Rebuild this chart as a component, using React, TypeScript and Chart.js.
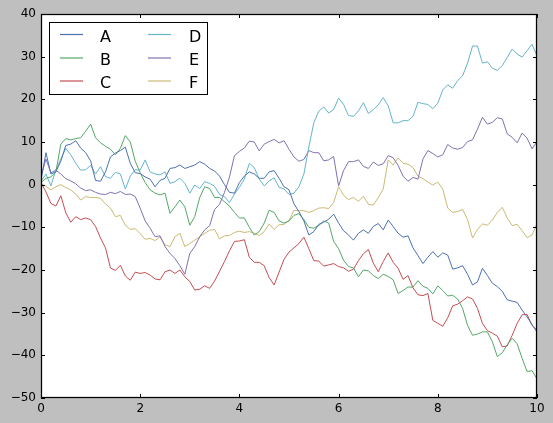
import { useEffect, useRef } from "react";
import { Chart, registerables } from "chart.js";

Chart.register(...registerables);

const tValues = [
  0, 0.1, 0.2, 0.3, 0.4, 0.5, 0.6, 0.7, 0.8, 0.9,
  1, 1.1, 1.2, 1.3, 1.4, 1.5, 1.6, 1.7, 1.8, 1.9,
  2, 2.1, 2.2, 2.3, 2.4, 2.5, 2.6, 2.7, 2.8, 2.9,
  3, 3.1, 3.2, 3.3, 3.4, 3.5, 3.6, 3.7, 3.8, 3.9,
  4, 4.1, 4.2, 4.3, 4.4, 4.5, 4.6, 4.7, 4.8, 4.9,
  5, 5.1, 5.2, 5.3, 5.4, 5.5, 5.6, 5.7, 5.8, 5.9,
  6, 6.1, 6.2, 6.3, 6.4, 6.5, 6.6, 6.7, 6.8, 6.9,
  7, 7.1, 7.2, 7.3, 7.4, 7.5, 7.6, 7.7, 7.8, 7.9,
  8, 8.1, 8.2, 8.3, 8.4, 8.5, 8.6, 8.7, 8.8, 8.9,
  9, 9.1, 9.2, 9.3, 9.4, 9.5, 9.6, 9.7, 9.8, 9.9,
  10,
];

const seriesA = [
  1.0, 7.5, 2.5, 3.0, 5.5, 9.2, 9.5, 10.3, 8.6, 7.5,
  5.6, 1.0, 0.8, 3.0, 6.5, 7.4, 8.0, 8.8, 5.0, 2.8,
  2.6, 1.8, 1.3, -0.5, 1.0, 1.5, 3.8, 4.0, 4.6, 3.8,
  4.2, 4.6, 5.4, 4.8, 3.8, 3.2, 2.0, 0.0, -1.8, -2.0,
  0.5, 2.0, 3.0, 2.5, 1.5, 1.5, 3.0, 3.3, 1.5, -0.5,
  -1.2, -4.5, -6.3, -8.5, -11.8, -11.0, -9.3, -8.8, -8.1, -6.9,
  -9.0, -10.8, -11.8, -13.0, -11.4, -10.6, -11.4, -9.8, -9.1, -10.6,
  -8.3, -9.8, -11.4, -12.3, -12.0, -14.8, -16.6, -18.5, -17.0, -15.7,
  -17.0, -16.0, -16.5, -19.8, -19.5, -19.0, -21.0, -23.5, -22.8, -19.6,
  -21.3, -23.1, -23.9, -25.0, -27.0, -27.3, -27.6, -29.4, -31.0, -32.8,
  -34.5,
];

const seriesB = [
  0.5, 1.5, 1.8, 3.0, 9.5, 10.8, 10.5, 10.8, 11.0, 12.5,
  14.2, 11.0, 9.8, 9.0, 8.3, 7.0, 8.5, 11.5, 10.0, 5.5,
  2.8, 0.5, -1.2, -2.0, -2.4, -2.0, -6.7, -5.2, -3.6, -5.2,
  -9.5, -7.5, -3.0, -0.5, -0.9, -3.0, -3.0, -4.0, -5.0, -6.5,
  -7.8, -7.8, -10.0, -11.8, -11.0, -9.0, -6.0, -6.5, -8.5, -9.0,
  -8.5, -7.2, -6.8, -8.2, -10.0, -10.2, -9.6, -8.5, -9.0, -13.3,
  -15.0, -17.7, -19.2, -19.5, -21.6, -20.0, -20.2, -21.3, -22.0, -21.0,
  -21.5, -22.3, -25.5, -24.8, -24.0, -24.0, -22.5, -23.8, -24.3, -25.6,
  -23.7, -24.8, -26.1, -25.9, -26.8, -29.0, -33.0, -35.3, -35.0, -34.5,
  -34.5, -36.8, -40.3, -39.4, -37.5, -36.0, -37.3, -40.7, -43.8, -43.6,
  -45.5,
];

const seriesC = [
  0.5, -1.7, -4.4, -5.0, -2.6, -6.6, -8.8, -7.5, -8.2, -7.8,
  -8.2, -9.8, -12.5, -14.8, -19.5, -20.1, -18.9, -21.4, -22.4, -20.5,
  -20.8, -20.6, -21.2, -22.1, -22.3, -20.4, -20.0, -20.8, -20.0, -21.6,
  -22.7, -24.7, -24.5, -23.7, -24.3, -22.6, -20.3, -18.0, -15.5, -13.3,
  -13.2, -12.9, -17.0, -18.2, -18.2, -19.0, -21.8, -23.5, -20.5, -17.5,
  -15.8, -14.8, -13.8, -12.3, -15.0, -17.8, -17.9, -19.1, -18.8, -18.5,
  -19.2, -19.5, -20.3, -19.8, -17.8, -16.2, -15.2, -18.4, -20.4, -18.0,
  -16.0, -18.2, -19.6, -22.2, -21.3, -24.2, -25.8, -26.0, -25.5, -31.8,
  -32.5, -33.2, -31.2, -28.4, -28.0, -27.2, -26.3, -26.8, -29.0, -32.5,
  -34.2, -34.8, -35.5, -38.0, -37.8, -35.3, -32.5, -30.5, -30.4, -33.0,
  -34.1,
];

const seriesD = [
  0.8, 2.5, -0.3, 3.5, 6.0, 8.5, 7.0, 5.0, 3.4, 3.5,
  4.5, 2.5, 4.2, 1.9, 1.5, 2.9, 2.5, -1.0, 2.0, 3.5,
  3.4, 5.8, 3.0, 2.5, 2.3, 3.0, 0.3, 0.7, 1.5, 0.3,
  -2.0, -0.1, -0.9, 0.7, 0.3, -0.4, -2.3, -2.8, -4.2, -2.2,
  -0.6, 1.3, 5.0, 4.0, 1.3, -0.3, 0.9, 1.6, -0.6, -1.0,
  -2.3, -2.0, -0.5, 2.5, 8.8, 14.5, 17.2, 18.2, 16.8, 17.6,
  20.3, 18.8, 16.2, 16.0, 17.3, 19.2, 16.7, 17.6, 18.7, 20.4,
  18.5, 14.5, 14.5, 15.0, 15.0, 16.0, 19.3, 19.0, 18.8, 17.8,
  19.1, 22.2, 23.4, 22.6, 24.4, 25.5, 28.5, 32.5, 32.5, 28.5,
  28.8, 27.3, 26.8, 27.9, 29.8, 31.8, 30.6, 29.9, 31.4, 32.9,
  30.2,
];

const seriesE = [
  2.0, 6.0, 2.8, 3.4, 2.5, 1.4, 0.9, 0.2, -0.8, -1.4,
  -1.2, -1.8, -2.2, -2.3, -1.8, -2.1, -1.6, -2.3, -2.2, -2.8,
  -5.5, -8.5, -10.2, -12.2, -12.0, -14.5, -16.1, -17.3, -19.0, -21.0,
  -16.1, -14.5, -12.2, -10.6, -9.6, -5.8, -4.6, -1.8, 1.8, 6.8,
  7.8, 8.6, 10.2, 10.0, 7.9, 9.5, 10.1, 10.6, 9.8, 10.3,
  8.3, 6.5, 5.5, 5.9, 8.0, 7.5, 7.5, 5.6, 5.8, 6.6,
  -0.3, 3.3, 5.4, 5.4, 5.8, 4.3, 3.8, 5.3, 4.5, 4.9,
  6.8, 6.3, 4.5, 2.0, 0.8, 1.7, 1.3, 6.0, 8.0, 7.3,
  6.5, 7.0, 9.4, 8.6, 8.3, 8.7, 10.1, 10.5, 13.0, 15.8,
  14.2, 14.6, 15.7, 15.4, 11.9, 11.1, 9.8, 12.1, 10.9, 8.4,
  10.1,
];

const seriesF = [
  0.3, -0.4, -1.2, -0.5, 0.0, -0.7, -1.2, -2.2, -3.6, -2.8,
  -3.0, -3.0, -3.2, -4.5, -5.5, -7.5, -7.2, -9.5, -10.5, -10.3,
  -11.5, -12.8, -12.6, -13.1, -12.2, -14.1, -14.5, -12.2, -11.4, -14.5,
  -13.8, -13.0, -12.2, -11.4, -10.7, -10.5, -12.7, -12.0, -11.9, -11.2,
  -10.9, -11.2, -11.0, -11.4, -11.9, -11.0, -9.2, -10.5, -9.4, -9.3,
  -8.4, -6.0, -6.1, -6.1, -6.5, -6.1, -5.5, -5.4, -5.6, -4.2,
  -0.5, -2.5, -3.5, -3.0, -3.9, -2.7, -4.6, -4.8, -3.0, -1.0,
  5.8, 4.6, 6.3, 5.0, 4.8, 4.0, 2.0, 1.4, 0.6, -0.1,
  0.6, -1.0, -5.5, -6.5, -6.3, -5.8, -8.2, -12.5, -10.5, -9.2,
  -9.5, -8.3, -6.5, -5.3, -7.8, -9.6, -9.3, -10.8, -12.4, -11.8,
  -9.1,
];

const seriesLabels = ["A", "B", "C", "D", "E", "F"];
const seriesColors = ["#4C72B0", "#55A868", "#C44E52", "#64B5CD", "#8172B2", "#CCB974"];
const xTicks = [0, 2, 4, 6, 8, 10];
const yTicks = [-50, -40, -30, -20, -10, 0, 10, 20, 30, 40];

const FONT = "'DejaVu Sans', 'Liberation Sans', sans-serif";

const framePlugin = {
  id: "frameTicksLegend",
  beforeDatasetsDraw(chart: any) {
    const { ctx, chartArea } = chart;
    ctx.save();
    ctx.fillStyle = "#ffffff";
    ctx.fillRect(chartArea.left, chartArea.top, chartArea.right - chartArea.left, chartArea.bottom - chartArea.top);
    ctx.restore();
  },
  afterDatasetsDraw(chart: any) {
    const { ctx, chartArea, scales } = chart;
    const { left, right, top, bottom } = chartArea;
    const xs = scales.x;
    const ys = scales.y;
    ctx.save();
    ctx.strokeStyle = "#000000";
    ctx.lineWidth = 1;
    ctx.beginPath();
    for (const v of xTicks) {
      const px = Math.round(xs.getPixelForValue(v)) + 0.5;
      ctx.moveTo(px, bottom);
      ctx.lineTo(px, bottom - 4);
      ctx.moveTo(px, top);
      ctx.lineTo(px, top + 4);
    }
    for (const v of yTicks) {
      const py = Math.round(ys.getPixelForValue(v)) + 0.5;
      ctx.moveTo(left, py);
      ctx.lineTo(left + 4, py);
      ctx.moveTo(right, py);
      ctx.lineTo(right - 4, py);
    }
    ctx.stroke();
    ctx.lineWidth = 1.25;
    ctx.strokeRect(Math.round(left) + 0.5, Math.round(top) + 0.5, Math.round(right - left) - 1, Math.round(bottom - top) - 1);

    // legend (two columns, upper left)
    const boxX = 49.5;
    const boxY = 22.5;
    const boxW = 158;
    const boxH = 72;
    ctx.fillStyle = "#ffffff";
    ctx.fillRect(boxX, boxY, boxW, boxH);
    ctx.lineWidth = 1;
    ctx.strokeStyle = "#000000";
    ctx.strokeRect(boxX, boxY, boxW, boxH);
    const rowY = [34, 57.5, 80.5];
    const cols = [
      { x0: 60, x1: 83, tx: 100 },
      { x0: 148, x1: 171, tx: 189 },
    ];
    ctx.font = `16px ${FONT}`;
    ctx.textAlign = "left";
    ctx.textBaseline = "alphabetic";
    chart.data.datasets.forEach((ds: any, i: number) => {
      const col = cols[Math.floor(i / 3)];
      const y = rowY[i % 3];
      ctx.strokeStyle = ds.borderColor;
      ctx.lineWidth = 1.2;
      ctx.beginPath();
      ctx.moveTo(col.x0, y + 0.5);
      ctx.lineTo(col.x1, y + 0.5);
      ctx.stroke();
      ctx.fillStyle = "#000000";
      ctx.fillText(ds.label, col.tx, y + 7.5);
    });
    ctx.restore();
  },
};

export default function App() {
  const canvasRef = useRef<HTMLCanvasElement | null>(null);

  useEffect(() => {
    const canvas = canvasRef.current;
    if (!canvas) return;
    const allSeries = [seriesA, seriesB, seriesC, seriesD, seriesE, seriesF];
    const chart = new Chart(canvas, {
      type: "line",
      data: {
        datasets: allSeries.map((vals, i) => ({
          label: seriesLabels[i],
          data: vals.map((v, j) => ({ x: tValues[j], y: v })),
          borderColor: seriesColors[i],
          backgroundColor: seriesColors[i],
          borderWidth: 1,
          pointRadius: 0,
          pointHoverRadius: 0,
          tension: 0,
          fill: false,
        })),
      },
      options: {
        responsive: false,
        animation: false,
        devicePixelRatio: 1,
        layout: { padding: { left: 0, top: 14, right: 16, bottom: 0 } },
        plugins: {
          legend: { display: false },
          tooltip: { enabled: false },
        },
        events: [],
        scales: {
          x: {
            type: "linear",
            min: 0,
            max: 10,
            grid: { display: false, drawTicks: false },
            border: { display: false },
            afterBuildTicks: (scale: any) => {
              scale.ticks = xTicks.map((v) => ({ value: v }));
            },
            afterFit: (scale: any) => {
              scale.height = 25;
            },
            ticks: {
              color: "#000000",
              padding: 4,
              maxRotation: 0,
              autoSkip: false,
              font: { family: FONT, size: 12 },
              callback: (v: any) => String(v),
            },
          },
          y: {
            type: "linear",
            min: -50,
            max: 40,
            grid: { display: false, drawTicks: false },
            border: { display: false },
            afterBuildTicks: (scale: any) => {
              scale.ticks = yTicks.map((v) => ({ value: v }));
            },
            afterFit: (scale: any) => {
              scale.width = 41;
            },
            ticks: {
              color: "#000000",
              padding: 5,
              autoSkip: false,
              font: { family: FONT, size: 12 },
              callback: (v: any) => (Number(v) < 0 ? "\u2212" + String(Math.abs(Number(v))) : String(v)),
            },
          },
        },
      },
      plugins: [framePlugin],
    } as any);
    return () => chart.destroy();
  }, []);

  return (
    <div
      style={{
        position: "fixed",
        left: 0,
        top: 0,
        width: 553,
        height: 423,
        background: "#bfbfbf",
      }}
    >
      <canvas ref={canvasRef} width={553} height={423} style={{ display: "block", width: 553, height: 423 }} />
    </div>
  );
}
